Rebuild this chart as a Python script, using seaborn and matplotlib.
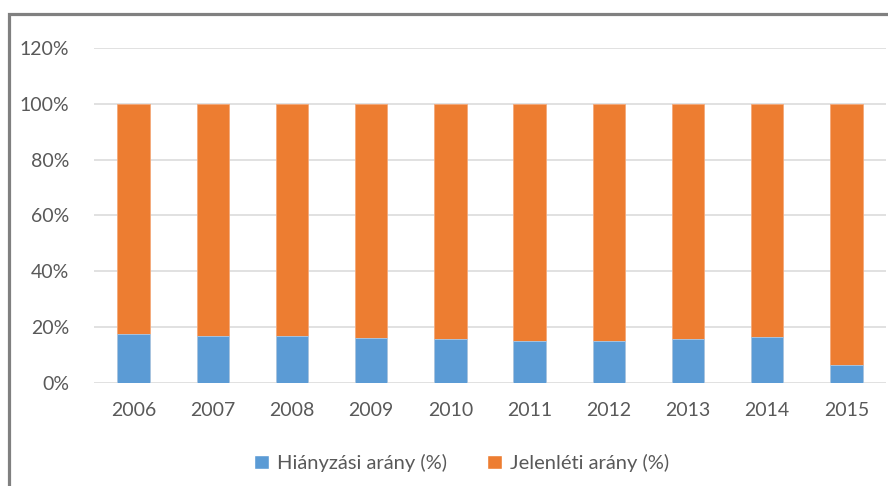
import matplotlib
matplotlib.use("Agg")
import matplotlib.pyplot as plt
import seaborn as sns
import pandas as pd
from matplotlib.patches import Rectangle, Patch
from matplotlib.ticker import FuncFormatter

years = ["2006", "2007", "2008", "2009", "2010", "2011", "2012", "2013", "2014", "2015"]
absence = [17.6, 17.0, 17.0, 16.2, 15.9, 14.9, 14.9, 15.9, 16.3, 6.4]
presence = [100 - a for a in absence]
labels = ["Hiányzási arány (%)", "Jelenléti arány (%)"]
blue = "#5B9BD5"
orange = "#ED7D31"

sns.set_theme(style="white")
plt.rcParams["font.family"] = ["Lato", "DejaVu Sans"]

df = pd.DataFrame({"year": years,
                   "absence": [a / 100 for a in absence],
                   "total": [(a + p) / 100 for a, p in zip(absence, presence)]})

fig = plt.figure(figsize=(8.88, 4.86), dpi=100)
ax = fig.add_axes([94 / 888, 103 / 486, 792 / 888, 335 / 486])

sns.barplot(data=df, x="year", y="total", color=orange, width=0.41,
            saturation=1, ax=ax, zorder=3, edgecolor="#F4A97A", linewidth=0.6)
sns.barplot(data=df, x="year", y="absence", color=blue, width=0.41,
            saturation=1, ax=ax, zorder=3, edgecolor="#A9CBEA", linewidth=0.6)

ax.set_ylim(0, 1.2)
ax.set_yticks([0, 0.2, 0.4, 0.6, 0.8, 1.0, 1.2])
ax.yaxis.set_major_formatter(FuncFormatter(lambda v, p: f"{v * 100:.0f}%"))
ax.grid(axis="y", color="#D9D9D9", linewidth=1.1, zorder=0)
ax.set_axisbelow(True)
for s in ax.spines.values():
    s.set_visible(False)
ax.set_xlabel("")
ax.set_ylabel("")
ax.tick_params(axis="both", length=0, labelsize=14, labelcolor="#595959")
ax.tick_params(axis="y", pad=18)
ax.tick_params(axis="x", pad=14)

handles = [Patch(facecolor=blue), Patch(facecolor=orange)]
fig.legend(handles, labels, loc="center", bbox_to_anchor=(0.52, 23 / 486),
           ncol=2, frameon=False, fontsize=14.5, labelcolor="#595959",
           handlelength=0.75, handleheight=0.75, handletextpad=0.4,
           columnspacing=2.0)

# outer frame (gray border, partially cropped)
fig.patches.append(Rectangle((8.5 / 888, -0.1), 1.2, (486 - 13.5) / 486 + 0.1,
                             transform=fig.transFigure, fill=False,
                             edgecolor="#808080", linewidth=2.3))

fig.savefig("out.png", dpi=100)
